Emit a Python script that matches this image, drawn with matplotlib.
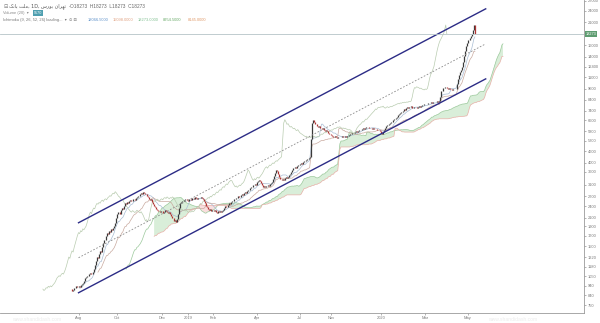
import numpy as np
import pandas as pd
import matplotlib
matplotlib.use("Agg")
from matplotlib import pyplot as plt

plt.rcParams["font.family"] = ["Liberation Sans", "DejaVu Sans"]

# daily closes, one per trading session
closes = [
    905, 890, 900, 920, 915, 935, 925, 940, 930, 945, 960, 975,
    1000, 1030, 1045, 1060, 1050, 1075, 1090, 1080, 1110, 1150,
    1200, 1260, 1320, 1300, 1370, 1420, 1400, 1480, 1550, 1620,
    1700, 1760, 1740, 1800, 1780, 1840, 1820, 1860, 1900, 1980,
    2080, 2180, 2240, 2200, 2290, 2350, 2330, 2420, 2480, 2460,
    2510, 2490, 2550, 2580, 2540, 2600, 2620, 2590, 2650, 2680,
    2720, 2700, 2760, 2800, 2780, 2850, 2810, 2760, 2700, 2680,
    2620, 2580, 2600, 2520, 2470, 2420, 2380, 2330, 2300, 2260,
    2240, 2280, 2260, 2230, 2250, 2290, 2270, 2240, 2220, 2250,
    2200, 2150, 2080, 2020, 2050, 2000, 2060, 2200, 2350, 2480,
    2520, 2560, 2540, 2590, 2610, 2580, 2550, 2600, 2620, 2590,
    2640, 2660, 2630, 2680, 2650, 2620, 2660, 2640, 2680, 2650,
    2600, 2540, 2480, 2420, 2380, 2330, 2300, 2320, 2280, 2300,
    2270, 2290, 2250, 2230, 2260, 2240, 2280, 2250, 2270, 2310,
    2350, 2400, 2380, 2440, 2480, 2460, 2530, 2560, 2540, 2600,
    2620, 2660, 2640, 2700, 2680, 2730, 2760, 2740, 2800, 2840,
    2820, 2880, 2920, 2900, 2980, 3020, 3000, 3080, 3120, 3100,
    3180, 3220, 3260, 3240, 3150, 3080, 3020, 3050, 3000, 3040,
    3080, 3060, 3120, 3150, 3200, 3300, 3420, 3550, 3680, 3620,
    3500, 3400, 3300, 3260, 3320, 3280, 3350, 3380, 3340, 3400,
    3460, 3520, 3600, 3700, 3780, 3820, 3760, 3840, 3900, 3880,
    3950, 4000, 3970, 4050, 4100, 4080, 4150, 4200, 4250, 4300,
    5300, 6400, 6650, 6500, 6300, 6350, 6200, 6100, 6150, 6050,
    5980, 6020, 5900, 5850, 5920, 5800, 5700, 5650, 5600, 5560,
    5500, 5450, 5480, 5420, 5380, 5440, 5400, 5450, 5420, 5480,
    5440, 5400, 5460, 5430, 5500, 5560, 5620, 5600, 5680, 5720,
    5700, 5760, 5800, 5780, 5850, 5900, 5880, 5950, 6000, 5980,
    6050, 6100, 6080, 6120, 6060, 6000, 6040, 5980, 6020, 5960,
    5940, 5900, 5920, 5880, 5800, 5700, 5650, 5750, 5900, 6050,
    6150, 6250, 6300, 6400, 6500, 6480, 6600, 6700, 6680, 6800,
    6900, 7000, 7100, 7200, 7300, 7400, 7550, 7500, 7650, 7700,
    7680, 7750, 7720, 7800, 7680, 7620, 7700, 7750, 7680, 7720,
    7780, 7750, 7820, 7880, 7900, 7960, 8000, 8050, 8020, 8100,
    8080, 8150, 8120, 8180, 8150, 8200, 8170, 8250, 8220, 8300,
    8700, 9300, 9700, 9650, 9800, 9750, 9700, 9600, 9650, 9550,
    9500, 9450, 9550, 9500, 9600, 10100, 10800, 11300, 11600, 12000,
    12400, 13200, 14100, 15000, 15800, 16500, 17000, 17400, 17900, 18300,
    19200, 20300, 18273,
]

month_ticks = [7.4, 42.6, 84.3, 108.3, 131.5, 172.2, 212, 240.7, 287, 327.8, 367.6]
month_labels = ["Aug", "Oct", "Dec", "2019", "Feb", "Apr", "Jul", "Nov", "2020", "Mar", "May"]

price_ticks = [750, 840, 940, 1050, 1180, 1320, 1500, 1700, 1900, 2100, 2400,
               2700, 3100, 3600, 4000, 4600, 5200, 5800, 6600, 7400, 8400,
               9600, 11000, 12400, 14000, 16000, 21000, 24000, 27000]

# hand drawn channel: (bar, price) at both ends
channel_bars = [7, 384]
upper_prices = [1977, 24550]
lower_prices = [867, 10760]

ichimoku_values = ["18066.5000", "15098.0000", "18273.0000", "8954.5000", "8145.0000"]
ichimoku_colors = ["#5b8fc9", "#e0a080", "#7fbf8f", "#6aaa6a", "#e09a6a"]

close = pd.Series(closes, dtype=float)
open_ = close.shift(1).fillna(close.iloc[0])
high = np.maximum(open_, close)
low = np.minimum(open_, close)
bars = np.arange(len(close))
last_close = closes[-1]


def donchian(n):
    return (high.rolling(n).max() + low.rolling(n).min()) / 2


conversion = donchian(9)
base = donchian(26)
lead1 = ((conversion + base) / 2).values
lead2 = donchian(52).values
ahead = bars + 26

fig = plt.figure(figsize=(6, 3.23), dpi=100)
ax = fig.add_axes([0, 10 / 323, 584 / 600, 313 / 323])
ax.set_yscale("log")
ax.set_xlim(-65.7, 475)
ax.set_ylim(683, 27240)

# cloud
ax.fill_between(ahead, lead1, lead2, where=lead1 >= lead2, interpolate=True,
                color="#d9eed9", lw=0)
ax.fill_between(ahead, lead1, lead2, where=lead1 < lead2, interpolate=True,
                color="#f9dede", lw=0)
ax.plot(ahead, lead1, color="#9cc99c", lw=0.5)
ax.plot(ahead, lead2, color="#e7b0a8", lw=0.5)

ax.plot(bars, conversion, color="#a9bdd4", lw=0.5)
ax.plot(bars, base, color="#c9aaa0", lw=0.5)
ax.plot(bars - 26, close, color="#b9ccb0", lw=0.5)

# candles
colors = np.where(close >= open_, "#3a3a3a", "#b03434")
ax.vlines(bars, low, high, colors=colors, lw=0.9)

# channel
ax.plot(channel_bars, upper_prices, color="#2c2c86", lw=1.0)
ax.plot(channel_bars, lower_prices, color="#2c2c86", lw=1.0)
mid_prices = np.sqrt(np.array(upper_prices) * np.array(lower_prices))
ax.plot(channel_bars, mid_prices, color="#8a8a8a", lw=0.6, ls=(0, (2, 2)))

ax.axhline(last_close, color="#b5c4c8", lw=0.6)

for side in ["left", "top"]:
    ax.spines[side].set_visible(False)
for side in ["right", "bottom"]:
    ax.spines[side].set_color("#9a9a9a")
    ax.spines[side].set_linewidth(0.6)

ax.yaxis.tick_right()
ax.set_yticks(price_ticks)
ax.set_yticklabels([str(p) for p in price_ticks])
ax.yaxis.set_minor_locator(matplotlib.ticker.NullLocator())
ax.set_xticks(month_ticks)
ax.set_xticklabels(month_labels)
ax.tick_params(axis="both", labelsize=2.9, colors="#7a7a7a", length=1.5, width=0.4, pad=1)

ax.annotate(str(last_close), xy=(1.0, last_close), xycoords=("axes fraction", "data"),
            xytext=(1.2, 0), textcoords="offset points", va="center", ha="left",
            fontsize=2.8, color="white",
            bbox=dict(boxstyle="square,pad=0.2", fc="#5e9c70", ec="none"))

# legend header
y1, y2, y3 = 1 - 6 / 323, 1 - 13 / 323, 1 - 20 / 323
fig.text(3 / 600, y1, "\u229f", fontsize=3.6, color="#777777", va="center",
         family="DejaVu Sans")
fig.text(9 / 600, y1, "\ufb8f\ufee7\ufe8e\ufe91 \ufe96\ufee0\ufee3, 1D, "
         "\ufeb1\ufead\ufeee\ufe91 \ufee5\ufe8d\ufeae\ufeec\ufe97  \u00b7",
         fontsize=3.5, color="#555555", va="center", family="DejaVu Sans")
fig.text(70 / 600, y1, "O18273  H18273  L18273  C18273", fontsize=3.4,
         color="#666666", va="center")
fig.text(3 / 600, y2, "Volume (20)  \u25be", fontsize=2.9, color="#8a8a8a", va="center",
         family=["Liberation Sans", "DejaVu Sans"])
fig.text(34 / 600, y2, "9570", fontsize=2.7, color="white", va="center",
         bbox=dict(boxstyle="square,pad=0.2", fc="#4f9fb0", ec="none"))
fig.text(3 / 600, y3, "Ichimoku (9, 26, 52, 26) loading...  \u25be  \u2299 \u229f",
         fontsize=2.9, color="#777777", va="center",
         family=["Liberation Sans", "DejaVu Sans"])
x_pos = 88
for val, col in zip(ichimoku_values, ichimoku_colors):
    fig.text(x_pos / 600, y3, val, fontsize=2.9, color=col, va="center")
    x_pos += 25

for wx in [12, 488]:
    fig.text(wx / 600, 1 / 323, "www.shandidash.com", fontsize=3.6, color="#ececec",
             va="bottom", zorder=-1)

fig.savefig("out.png", dpi=100)
